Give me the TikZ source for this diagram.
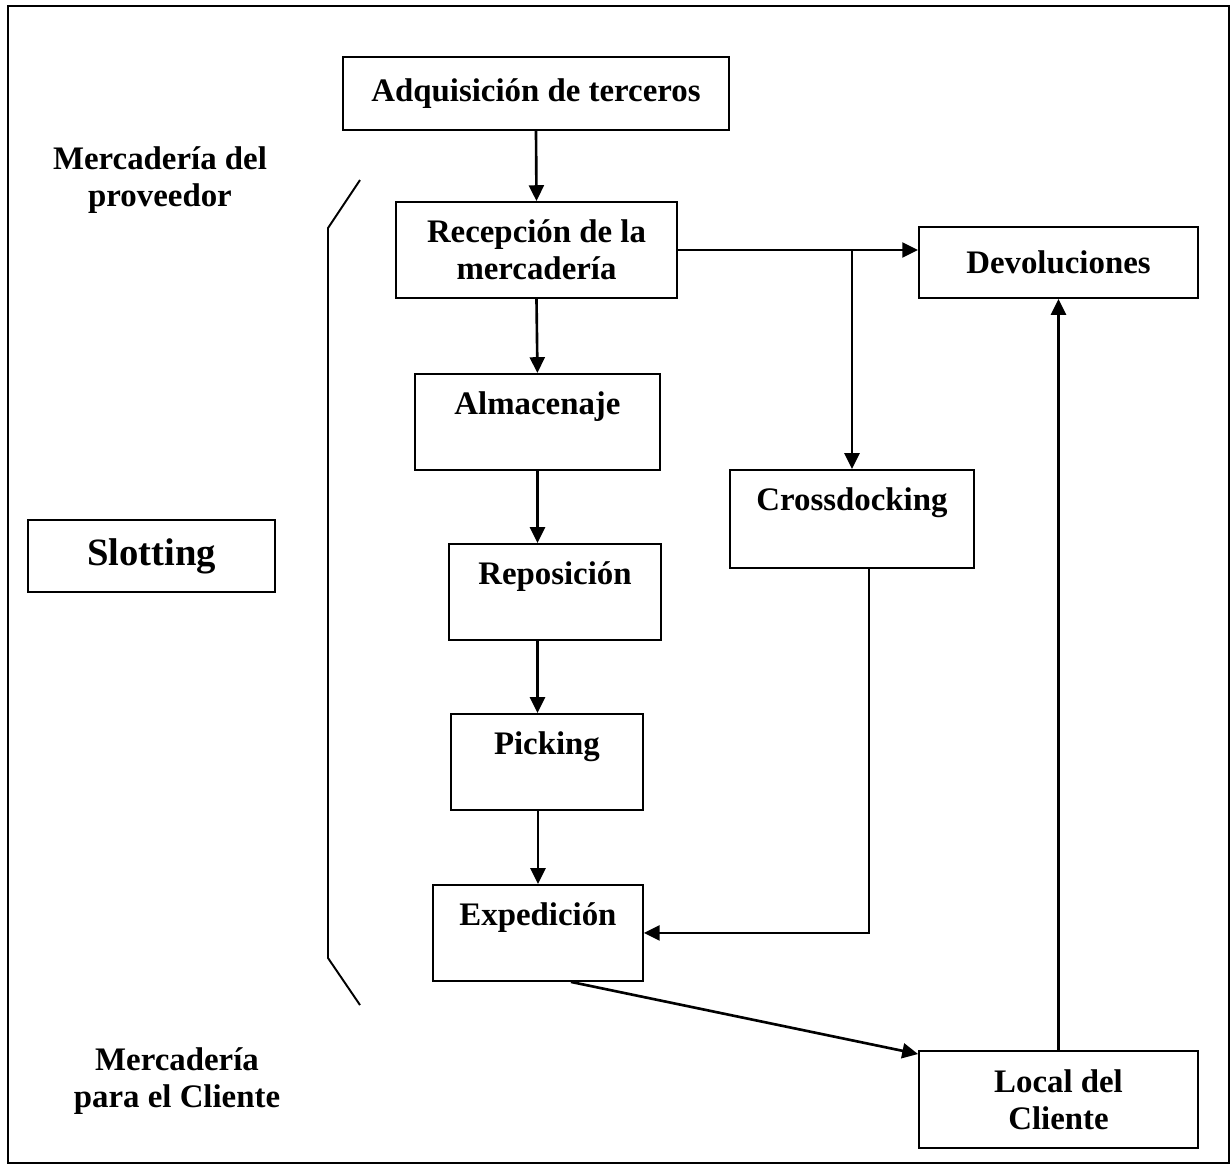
\documentclass[tikz,border=0pt]{standalone}
\usepackage{fontspec}
\setmainfont{Liberation Serif}
\usepackage{tikz}
\usetikzlibrary{arrows.meta}

\begin{document}
\begin{tikzpicture}[x=0.02cm,y=-0.02cm,
  box/.style={rectangle,draw=black,line width=1.1pt,align=center,inner sep=0pt,font=\fontsize{18.7}{21}\selectfont\bfseries},
  topbox/.style={box,anchor=north west,minimum height=1.92cm,text height=0.82cm,text depth=1.10cm},
  flow/.style={-{Triangle[length=9pt,width=8.5pt]},line width=1.5pt},
  side/.style={align=center,font=\fontsize{18.7}{21}\selectfont\bfseries}]
\useasboundingbox (0,0) rectangle (1232,1167);
\draw[line width=1.1pt] (8,6) rectangle (1229,1163);
% main column
\node[box,minimum width=7.72cm,minimum height=1.46cm] (adq) at (536,93.5) {Adquisición de terceros};
\node[box,minimum width=5.62cm,minimum height=1.92cm] (rec) at (536.5,250) {Recepción de la\\mercadería};
\node[topbox,minimum width=4.90cm] (alm) at (414,373) {Almacenaje};
\node[topbox,minimum width=4.24cm] (rep) at (448,543) {Reposición};
\node[topbox,minimum width=3.84cm] (pick) at (450,713) {Picking};
\node[topbox,minimum width=4.20cm] (exp) at (432,884) {Expedición};
% right side
\node[box,minimum width=5.58cm,minimum height=1.42cm] (dev) at (1058.5,262.5) {Devoluciones};
\node[topbox,minimum width=4.88cm,minimum height=1.96cm,text depth=1.14cm] (cross) at (729,469) {Crossdocking};
\node[box,minimum width=5.58cm,minimum height=1.94cm] (loc) at (1058.5,1099.5) {Local del\\Cliente};
% left side
\node[box,minimum width=4.94cm,minimum height=1.44cm,font=\fontsize{22}{26}\selectfont\bfseries] (slot) at (151.5,556) {Slotting};
\node[side] (prov) at (160,180) {Mercadería del\\proveedor};
\node[side] (cli) at (177,1081) {Mercadería\\para el Cliente};
\draw[line width=1.1pt] (360,180) -- (328,228) -- (328,958) -- (360,1005);
% connectors
\draw[flow] (adq.south) -- (rec.north);
\draw[flow] (rec.south) -- (alm.north);
\draw[flow] (alm.south) -- (alm.south |- rep.north);
\draw[flow] (rep.south -| alm.south) -- (pick.north -| alm.south);
\draw[flow] (pick.south -| exp.north) -- (exp.north);
\draw[flow] (rec.east) -- (rec.east -| dev.west);
\draw[flow] (rec.east -| cross.north) -- (cross.north);
\draw[flow] ([xshift=0.34cm]cross.south) |- (exp.east);
\draw[flow] ([xshift=0.66cm]exp.south) -- ([yshift=-0.08cm]loc.north west);
\draw[flow] (loc.north) -- (dev.south);
\end{tikzpicture}
\end{document}
